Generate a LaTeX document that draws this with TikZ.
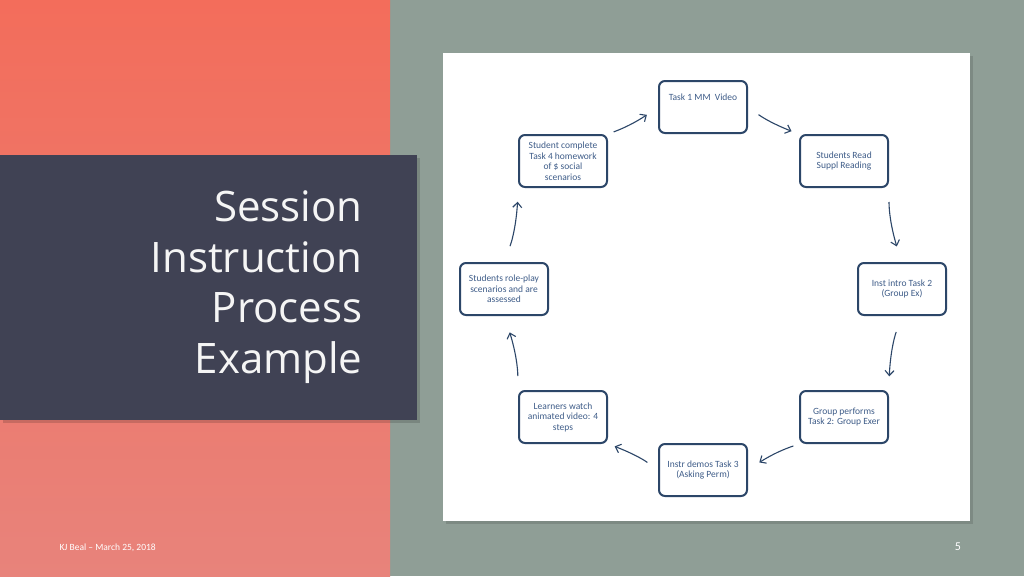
\documentclass[tikz,border=0pt]{standalone}
\usepackage{fontspec}
\setmainfont{Carlito}
\newfontfamily\titlefont{Open Sans}
\usetikzlibrary{arrows.meta, bending}

\definecolor{salmon}{HTML}{F36D5B}
\definecolor{salmonlow}{HTML}{E8837B}
\definecolor{sage}{HTML}{8F9E96}
\definecolor{slate}{HTML}{404254}
\definecolor{boxblue}{HTML}{2C4668}
\definecolor{textblue}{HTML}{3E5C88}

\begin{document}
\begin{tikzpicture}[
    x=1pt, y=-1pt,
    % Styles
    step box/.style={ % process step
        draw=boxblue,
        line width=2pt,
        rounded corners=6pt,
        fill=white,
        minimum width=88pt,
        minimum height=52pt,
        align=center,
        font=\fontsize{9.5}{10.5}\selectfont,
        text=textblue
    },
    flow/.style={ % cycle arrows
        -{Straight Barb[length=5pt, width=9pt]},
        draw=boxblue,
        line width=1.1pt
    }
]
    % Background
    \useasboundingbox (0,0) rectangle (1024,576);
    \fill[sage] (0,0) rectangle (1024,576);
    \shade[top color=salmon, bottom color=salmonlow] (0,0) rectangle (390,576);
    \fill[black, opacity=0.15] (3,158) rectangle (420,423);
    \fill[slate] (0,155) rectangle (417,420);
    \fill[black, opacity=0.12] (446,56) rectangle (973,524);
    \fill[white] (443,53) rectangle (970,521);

    % Title and footer
    \node[anchor=east, align=right, text=white!92!gray,
        font=\titlefont\fontsize{42}{50.5}\selectfont] (title) at (366,287)
        {Session\\Instruction\\Process\\Example};
    \node[anchor=west, text=white, font=\fontsize{9.5}{11}\selectfont] (footer) at (56,548) {KJ Beal -- March 25, 2018};
    \node[text=white, font=\fontsize{12}{14}\selectfont] (pagenum) at (958,547) {5};

    % Process steps
    \node[step box] (t1) at (703,107) {Task 1 MM\ \ Video\\[9pt]};
    \node[step box] (sr) at (844,161) {Students Read\\Suppl Reading};
    \node[step box] (ii) at (902,289) {Inst intro Task 2\\(Group Ex)};
    \node[step box] (gp) at (844,417) {Group performs\\Task 2: Group Exer};
    \node[step box] (id) at (703,470) {Instr demos Task 3\\(Asking Perm)};
    \node[step box] (lw) at (563,417) {Learners watch\\animated video: 4\\steps};
    \node[step box] (rp) at (504,289) {Students role-play\\scenarios and are\\assessed};
    \node[step box] (sc) at (563,161) {Student complete\\Task 4 homework\\of \$ social\\scenarios};

    % Cycle arrows
    \draw[flow, shorten <=6pt, shorten >=14pt] (sc.north east) to[bend right=8] (t1.west);
    \draw[flow, shorten <=13pt, shorten >=8pt] (t1.east) to[bend right=8] (sr.north west);
    \draw[flow, shorten <=14pt, shorten >=17pt] (sr.south east) to[bend right=10] (ii.north);
    \draw[flow, shorten <=17pt, shorten >=14pt] (ii.south) to[bend right=10] (gp.north east);
    \draw[flow, shorten <=6pt, shorten >=14pt] (gp.south west) to[bend right=8] (id.east);
    \draw[flow, shorten <=13pt, shorten >=7pt] (id.west) to[bend right=8] (lw.south east);
    \draw[flow, shorten <=14pt, shorten >=18pt] (lw.north west) to[bend right=10] (rp.south);
    \draw[flow, shorten <=17pt, shorten >=14pt] (rp.north) to[bend right=10] (sc.south west);
\end{tikzpicture}
\end{document}
